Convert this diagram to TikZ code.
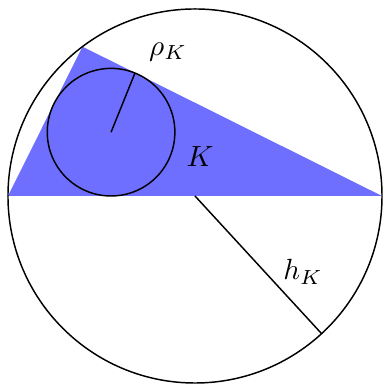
\documentclass[tikz,border=0pt]{standalone}
\usepackage{amsmath}
\usetikzlibrary{calc}

\begin{document}
\begin{tikzpicture}[line width=0.5pt]
  \useasboundingbox (-2.346,-2.274) rectangle (2.25,2.358);
  % Triangle K inscribed in circle, base is a diameter
  \coordinate (O) at (0,0);
  \coordinate (A) at (-2.25,0);
  \coordinate (B) at (2.25,0);
  \coordinate (C) at (127:2.25);
  \fill[blue!57] (A) -- (B) -- (C) -- cycle;
  \node (K) at (0.06,0.469) {$K$};
  % Incircle, radius rho_K
  \coordinate (I) at (-1.0097,0.7676);
  \draw (I) circle[radius=0.7676];
  \draw (I) -- ($(I)+(68:0.7676)$) coordinate (Ir);
  \node (rho) at (-0.325,1.733) {$\rho_K$};
  % Circumcircle, radius h_K
  \draw (O) circle[radius=2.25];
  \draw (O) -- (-47.4:2.25) coordinate (Or);
  \node (h) at (1.30,-0.914) {$h_K$};
\end{tikzpicture}
\end{document}
